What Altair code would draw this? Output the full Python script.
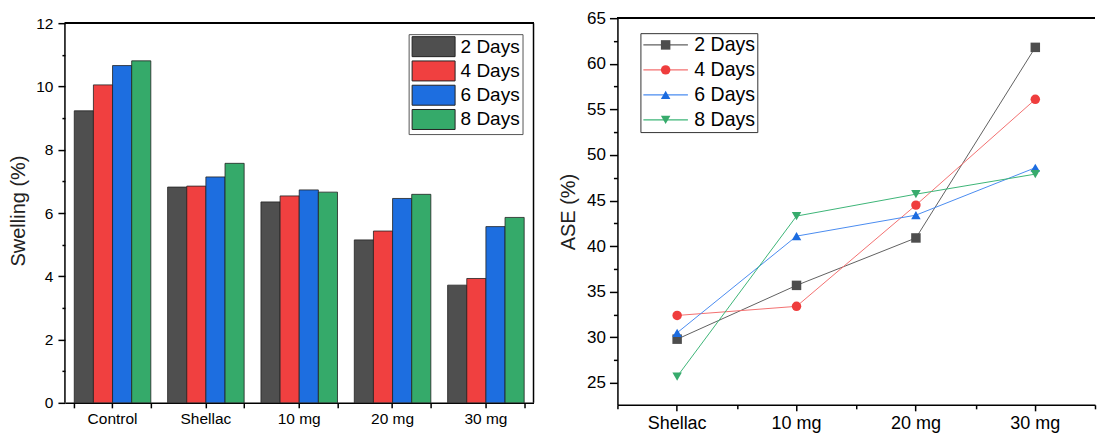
import altair as alt
import pandas as pd

FONT = "Liberation Sans"

# ---------------- data ----------------
SERIES = ["2 Days", "4 Days", "6 Days", "8 Days"]

CATS_BAR = ["Control", "Shellac", "10 mg", "20 mg", "30 mg"]
SWELL_2 = [9.23, 6.82, 6.35, 5.15, 3.72]
SWELL_4 = [10.05, 6.85, 6.54, 5.43, 3.93]
SWELL_6 = [10.66, 7.14, 6.73, 6.46, 5.57]
SWELL_8 = [10.81, 7.57, 6.66, 6.59, 5.86]

CATS_ASE = ["Shellac", "10 mg", "20 mg", "30 mg"]
ASE_2 = [29.8, 35.7, 40.9, 61.8]
ASE_4 = [32.4, 33.4, 44.5, 56.1]
ASE_6 = [30.5, 41.1, 43.4, 48.6]
ASE_8 = [25.7, 43.3, 45.7, 47.9]

SWELL_TICKS = [0, 2, 4, 6, 8, 10, 12]
SWELL_MINOR = [1, 3, 5, 7, 9, 11]
ASE_TICKS = [25, 30, 35, 40, 45, 50, 55, 60, 65]
ASE_MINOR = [27.5, 32.5, 37.5, 42.5, 47.5, 52.5, 57.5, 62.5]

BAR_COLORS = ["#4f4f4f", "#f04040", "#1d6ee0", "#35aa6a"]
LINE_COLORS = ["#606060", "#f37070", "#4a8cf0", "#3db577"]
MARK_COLORS = ["#4d4d4d", "#ef3d3d", "#1c6ce0", "#37ab6c"]
SHAPES = ["square", "circle", "triangle-up", "triangle-down"]

bar_rows = []
for s, vals in zip(SERIES, [SWELL_2, SWELL_4, SWELL_6, SWELL_8]):
    for c, v in zip(CATS_BAR, vals):
        bar_rows.append({"cat": c, "series": s, "value": v})
bar_df = pd.DataFrame(bar_rows)

ase_rows = []
for s, vals in zip(SERIES, [ASE_2, ASE_4, ASE_6, ASE_8]):
    for c, v in zip(CATS_ASE, vals):
        ase_rows.append({"cat": c, "series": s, "value": v})
ase_df = pd.DataFrame(ase_rows)

# ---------------- left: swelling bars ----------------
LW, LH = 469, 385
SW_TOP = 12
sw_scale = alt.Scale(domain=[0, 12.158], nice=False, zero=True)

bars = alt.Chart(bar_df).mark_bar(stroke="#222222", strokeWidth=0.8).encode(
    x=alt.X("cat:N", sort=CATS_BAR,
            scale=alt.Scale(paddingInner=0.18, paddingOuter=0.1),
            axis=alt.Axis(title=None, labelFontSize=15.5, labelColor="#000000", labelAngle=0,
                          tickSize=5, tickColor="#000000", tickWidth=1.5,
                          domainColor="#000000", domainWidth=1.5, labelPadding=4)),
    xOffset=alt.XOffset("series:N", sort=SERIES),
    y=alt.Y("value:Q", scale=sw_scale,
            axis=alt.Axis(values=SWELL_TICKS, title="Swelling (%)", titleFontSize=20,
                          titleFontWeight="normal", titleColor="#222222", titlePadding=7,
                          labelFontSize=15.5, labelColor="#000000", tickSize=7,
                          tickColor="#000000", tickWidth=1.5, domain=False, grid=False,
                          labelPadding=5)),
    fill=alt.Fill("series:N", scale=alt.Scale(domain=SERIES, range=BAR_COLORS),
                  legend=alt.Legend(title=None, orient="none", legendX=344, legendY=16,
                                    direction="vertical",
                                    symbolType="M-2.15,-1H2.15V1H-2.15Z", symbolSize=400,
                                    symbolStrokeColor="#222222", symbolStrokeWidth=1,
                                    labelFontSize=19, labelColor="#000000",
                                    padding=2, symbolOffset=12.5, labelOffset=16.5,
                                    rowPadding=-0.7, strokeColor="#555555")),
)

bar_minor = alt.Chart(bar_df).mark_point(opacity=0, size=1).encode(
    x=alt.X("cat:N", sort=CATS_BAR,
            axis=alt.Axis(orient="bottom", tickBand="extent", labels=False, domain=False,
                          tickSize=5, tickColor="#000000", tickWidth=1.5, title=None)),
    y=alt.Y("value:Q",
            axis=alt.Axis(orient="left", values=SWELL_MINOR, labels=False, domain=False,
                          tickSize=3, tickColor="#000000", tickWidth=1.5, title=None,
                          grid=False)),
)

frame_top = alt.Chart(bar_df).mark_rule(color="#000000", strokeWidth=1.5).encode(
    y=alt.Y(datum=SW_TOP, axis=None)
)
frame_sides = alt.Chart(pd.DataFrame({"x": [0, LW]})).mark_rule(
    color="#000000", strokeWidth=1.5).encode(
    x=alt.X("x:Q", scale=None, axis=None),
    y=alt.Y(datum=0, axis=None),
    y2=alt.Y2(datum=SW_TOP),
)

left = alt.layer(bars, bar_minor, frame_top, frame_sides).resolve_axis(
    x="independent", y="independent"
).properties(width=LW, height=LH)

# ---------------- right: ASE lines ----------------
RW, RH = 478, 387
ase_scale = alt.Scale(domain=[22.6, 65], nice=False, zero=False)
x_ase = alt.X("cat:N", sort=CATS_ASE, scale=alt.Scale(paddingInner=0, paddingOuter=0),
              axis=alt.Axis(title=None, labelFontSize=18, labelColor="#000000", labelAngle=0,
                            tickSize=6, tickColor="#000000", tickWidth=1.5,
                            domainColor="#000000", domainWidth=1.5, labelPadding=4))
y_ase = alt.Y("value:Q", scale=ase_scale,
              axis=alt.Axis(values=ASE_TICKS, title="ASE (%)", titleFontSize=20,
                            titleFontWeight="normal", titleColor="#222222", titlePadding=8,
                            labelFontSize=17, labelColor="#000000", tickSize=8,
                            tickColor="#000000", tickWidth=1.5, domainColor="#000000",
                            domainWidth=1.5, grid=False, labelPadding=4))

lines = alt.Chart(ase_df).mark_line(strokeWidth=1).encode(
    x=x_ase, y=y_ase,
    stroke=alt.Stroke("series:N", scale=alt.Scale(domain=SERIES, range=LINE_COLORS),
                      legend=alt.Legend(title=None, orient="none", legendX=23, legendY=15,
                                        direction="vertical", symbolType="M-4.7,0H4.7",
                                        symbolSize=90, symbolStrokeWidth=1.2,
                                        labelFontSize=19.5, labelColor="#000000",
                                        padding=2, symbolOffset=13.5, labelOffset=19,
                                        rowPadding=4, strokeColor="#333333")),
)

pt_legend = alt.Legend(title=None, orient="none", legendX=23, legendY=15,
                       direction="vertical", symbolSize=90, labelFontSize=19.5,
                       labelOpacity=0, padding=2, symbolOffset=13.5, labelOffset=19,
                       rowPadding=4)
x_pt = alt.X("cat:N", sort=CATS_ASE, axis=None)
y_pt = alt.Y("value:Q", axis=None)
points = alt.Chart(ase_df).mark_point(filled=True, size=90, opacity=1).encode(
    x=x_pt, y=y_pt,
    fill=alt.Fill("series:N", scale=alt.Scale(range=MARK_COLORS), legend=pt_legend),
    shape=alt.Shape("series:N", scale=alt.Scale(range=SHAPES), legend=pt_legend),
)

ase_minor = alt.Chart(ase_df).mark_point(opacity=0, size=1).encode(
    x=alt.X("cat:N", sort=CATS_ASE,
            axis=alt.Axis(orient="bottom", tickBand="extent", labels=False, domain=False,
                          tickSize=4, tickColor="#000000", tickWidth=1.5, title=None)),
    y=alt.Y("value:Q",
            axis=alt.Axis(orient="left", values=ASE_MINOR, labels=False, domain=False,
                          tickSize=4, tickColor="#000000", tickWidth=1.5, title=None,
                          grid=False)),
)

ase_top = alt.Chart(ase_df).mark_rule(color="#000000", strokeWidth=1.5).encode(
    y=alt.Y(datum=65, axis=None)
)

right = alt.layer(lines, points, ase_minor, ase_top).resolve_axis(
    x="independent", y="independent"
).properties(width=RW, height=RH)

chart = alt.hconcat(left, right, spacing=84, bounds="flush").resolve_scale(
    fill="independent", stroke="independent", shape="independent"
).resolve_legend(
    fill="independent", stroke="independent", shape="independent"
).properties(
    padding={"left": 8, "top": 8, "right": 0, "bottom": 4}
).configure_view(stroke="transparent").configure_axis(
    labelFont=FONT, titleFont=FONT
).configure_legend(labelFont=FONT)

chart.save("out.html", embed_options={"renderer": "svg", "actions": False})
